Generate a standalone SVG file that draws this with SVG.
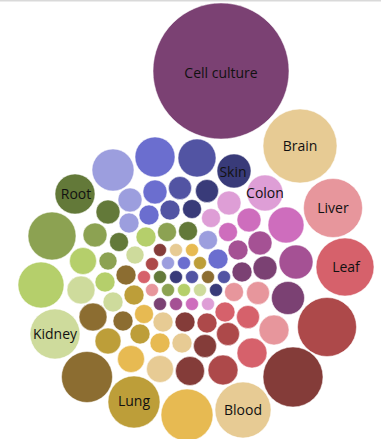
<svg xmlns="http://www.w3.org/2000/svg" width="381" height="439" viewBox="0 0 381 439">
<style>
circle{stroke:#fff;stroke-width:1;stroke-opacity:0.5}
text{font-family:"Open Sans","Liberation Sans",sans-serif;font-size:14px;fill:#111;text-anchor:middle}
.db{fill:#393b79}.sl{fill:#5254a3}.bl{fill:#6b6ecf}.lv{fill:#9c9ede}
.dg{fill:#637939}.ol{fill:#8ca252}.lg{fill:#b5cf6b}.pg{fill:#cedb9c}
.br{fill:#8c6d31}.mu{fill:#bd9e39}.go{fill:#e7ba52}.ta{fill:#e7cb94}
.dr{fill:#843c39}.rd{fill:#ad494a}.sa{fill:#d6616b}.pk{fill:#e7969c}
.pu{fill:#7b4173}.mg{fill:#a55194}.or{fill:#ce6dbd}.lo{fill:#de9ed6}
</style>
<rect x="0" y="0" width="381" height="439" fill="#fff"/>
<rect x="0" y="0" width="381" height="1" fill="#d9d9d9"/>
<rect x="0" y="1" width="381" height="1" fill="#ececec"/>
<g id="connectors"/>
<g id="n-cell-culture"><circle class="pu" cx="221" cy="71" r="68"/><text x="221" y="78">Cell culture</text></g>
<g id="n-brain"><circle class="ta" cx="300" cy="146" r="37"/><text x="300" y="151">Brain</text></g>
<g id="n-liver"><circle class="pk" cx="333" cy="208" r="29.5"/><text x="333" y="213">Liver</text></g>
<g id="n-leaf"><circle class="sa" cx="345" cy="267" r="29"/><text x="346" y="272">Leaf</text></g>
<g id="n5"><circle class="rd" cx="327" cy="327" r="29.5"/></g>
<g id="n6"><circle class="dr" cx="293" cy="377" r="30"/></g>
<g id="n-blood"><circle class="ta" cx="243" cy="410" r="28"/><text x="243" y="415">Blood</text></g>
<g id="n8"><circle class="go" cx="187" cy="415" r="26"/></g>
<g id="n-lung"><circle class="mu" cx="134" cy="402" r="26"/><text x="134" y="406">Lung</text></g>
<g id="n10"><circle class="br" cx="87" cy="377" r="25.5"/></g>
<g id="n-kidney"><circle class="pg" cx="55" cy="334" r="25"/><text x="55" y="339">Kidney</text></g>
<g id="n12"><circle class="lg" cx="41" cy="285" r="23"/></g>
<g id="n13"><circle class="ol" cx="52" cy="236" r="24"/></g>
<g id="n-root"><circle class="dg" cx="75" cy="194" r="20"/><text x="76" y="199">Root</text></g>
<g id="n15"><circle class="lv" cx="113" cy="170" r="21"/></g>
<g id="n16"><circle class="bl" cx="155" cy="157" r="20"/></g>
<g id="n17"><circle class="sl" cx="197" cy="158" r="19"/></g>
<g id="n-skin"><circle class="db" cx="234" cy="171" r="17"/><text x="233" y="177">Skin</text></g>
<g id="n-colon"><circle class="lo" cx="265" cy="193" r="18"/><text x="265" y="198">Colon</text></g>
<g id="n20"><circle class="or" cx="286" cy="225" r="18"/></g>
<g id="n21"><circle class="mg" cx="296" cy="262" r="17"/></g>
<g id="n22"><circle class="pu" cx="288" cy="298" r="16.5"/></g>
<g id="n23"><circle class="pk" cx="274" cy="330" r="15"/></g>
<g id="n24"><circle class="sa" cx="252" cy="353" r="15"/></g>
<g id="n25"><circle class="rd" cx="223" cy="370" r="15"/></g>
<g id="n26"><circle class="dr" cx="190" cy="371" r="14.5"/></g>
<g id="n27"><circle class="ta" cx="160" cy="369" r="13.5"/></g>
<g id="n28"><circle class="go" cx="131" cy="359" r="13.5"/></g>
<g id="n29"><circle class="mu" cx="108" cy="341" r="13"/></g>
<g id="n30"><circle class="br" cx="93" cy="317" r="14"/></g>
<g id="n31"><circle class="pg" cx="81" cy="290" r="14"/></g>
<g id="n32"><circle class="lg" cx="83" cy="261" r="13.5"/></g>
<g id="n33"><circle class="ol" cx="95" cy="235" r="12"/></g>
<g id="n34"><circle class="dg" cx="108" cy="212" r="12"/></g>
<g id="n35"><circle class="lv" cx="130" cy="200" r="12"/></g>
<g id="n36"><circle class="bl" cx="155" cy="192" r="12"/></g>
<g id="n37"><circle class="sl" cx="180" cy="188" r="11.5"/></g>
<g id="n38"><circle class="db" cx="207" cy="191" r="11.5"/></g>
<g id="n39"><circle class="lo" cx="229" cy="203" r="12"/></g>
<g id="n40"><circle class="or" cx="249" cy="220" r="12"/></g>
<g id="n41"><circle class="mg" cx="260" cy="243" r="12"/></g>
<g id="n42"><circle class="pu" cx="265" cy="268" r="12"/></g>
<g id="n43"><circle class="pk" cx="258" cy="293" r="11.5"/></g>
<g id="n44"><circle class="sa" cx="248" cy="317" r="11.5"/></g>
<g id="n45"><circle class="rd" cx="228" cy="334" r="11.5"/></g>
<g id="n46"><circle class="dr" cx="205" cy="346" r="11.5"/></g>
<g id="n47"><circle class="ta" cx="182" cy="343" r="10"/></g>
<g id="n48"><circle class="go" cx="160" cy="343" r="10"/></g>
<g id="n49"><circle class="mu" cx="140" cy="334" r="10"/></g>
<g id="n50"><circle class="br" cx="123" cy="321" r="10"/></g>
<g id="n51"><circle class="pg" cx="113" cy="302" r="10"/></g>
<g id="n52"><circle class="lg" cx="105" cy="282" r="10"/></g>
<g id="n53"><circle class="ol" cx="108" cy="261" r="9"/></g>
<g id="n54"><circle class="dg" cx="119" cy="242" r="9.5"/></g>
<g id="n55"><circle class="lv" cx="129" cy="223" r="10"/></g>
<g id="n56"><circle class="bl" cx="149" cy="215" r="10"/></g>
<g id="n57"><circle class="sl" cx="170" cy="210" r="10"/></g>
<g id="n58"><circle class="db" cx="192" cy="209" r="9.5"/></g>
<g id="n59"><circle class="lo" cx="211" cy="218" r="9.5"/></g>
<g id="n60"><circle class="or" cx="228" cy="232" r="9.5"/></g>
<g id="n61"><circle class="mg" cx="238" cy="250" r="10"/></g>
<g id="n62"><circle class="pu" cx="242" cy="272" r="10"/></g>
<g id="n63"><circle class="pk" cx="234" cy="292" r="9.5"/></g>
<g id="n64"><circle class="sa" cx="225" cy="312" r="10"/></g>
<g id="n65"><circle class="rd" cx="207" cy="323" r="10"/></g>
<g id="n66"><circle class="dr" cx="185" cy="322" r="10"/></g>
<g id="n67"><circle class="ta" cx="163" cy="322" r="10"/></g>
<g id="n68"><circle class="go" cx="144" cy="314" r="9.5"/></g>
<g id="n69"><circle class="mu" cx="134" cy="295" r="10"/></g>
<g id="n70"><circle class="br" cx="126" cy="275" r="10"/></g>
<g id="n71"><circle class="pg" cx="135" cy="255" r="9"/></g>
<g id="n72"><circle class="lg" cx="146" cy="237" r="10"/></g>
<g id="n73"><circle class="ol" cx="167" cy="232" r="9.5"/></g>
<g id="n74"><circle class="dg" cx="188" cy="231" r="9.5"/></g>
<g id="n75"><circle class="lv" cx="208" cy="240" r="9.5"/></g>
<g id="n76"><circle class="bl" cx="218" cy="259" r="10"/></g>
<g id="n77"><circle class="sl" cx="224" cy="277" r="6.5"/></g>
<g id="n78"><circle class="db" cx="216" cy="290" r="6.5"/></g>
<g id="n79"><circle class="lo" cx="208" cy="304" r="6.5"/></g>
<g id="n80"><circle class="or" cx="192" cy="304" r="6.5"/></g>
<g id="n81"><circle class="mg" cx="176" cy="304" r="6.5"/></g>
<g id="n82"><circle class="pu" cx="160" cy="304" r="6.5"/></g>
<g id="n83"><circle class="pk" cx="152" cy="290" r="6.5"/></g>
<g id="n84"><circle class="sa" cx="144" cy="277" r="6.5"/></g>
<g id="n85"><circle class="rd" cx="152" cy="264" r="6.5"/></g>
<g id="n86"><circle class="dr" cx="160" cy="250" r="6.5"/></g>
<g id="n87"><circle class="ta" cx="176" cy="250" r="6.5"/></g>
<g id="n88"><circle class="go" cx="192" cy="250" r="6.5"/></g>
<g id="n89"><circle class="mu" cx="200" cy="263" r="6.5"/></g>
<g id="n90"><circle class="br" cx="208" cy="277" r="6.5"/></g>
<g id="n91"><circle class="pg" cx="200" cy="290" r="6.5"/></g>
<g id="n92"><circle class="lg" cx="184" cy="290" r="6.5"/></g>
<g id="n93"><circle class="ol" cx="168" cy="290" r="6.5"/></g>
<g id="n94"><circle class="dg" cx="160" cy="277" r="6.5"/></g>
<g id="n95"><circle class="lv" cx="168" cy="263" r="6.5"/></g>
<g id="n96"><circle class="bl" cx="184" cy="263" r="6.5"/></g>
<g id="n97"><circle class="sl" cx="192" cy="277" r="6.5"/></g>
<g id="n98"><circle class="db" cx="176" cy="277" r="6.5"/></g>
</svg>
